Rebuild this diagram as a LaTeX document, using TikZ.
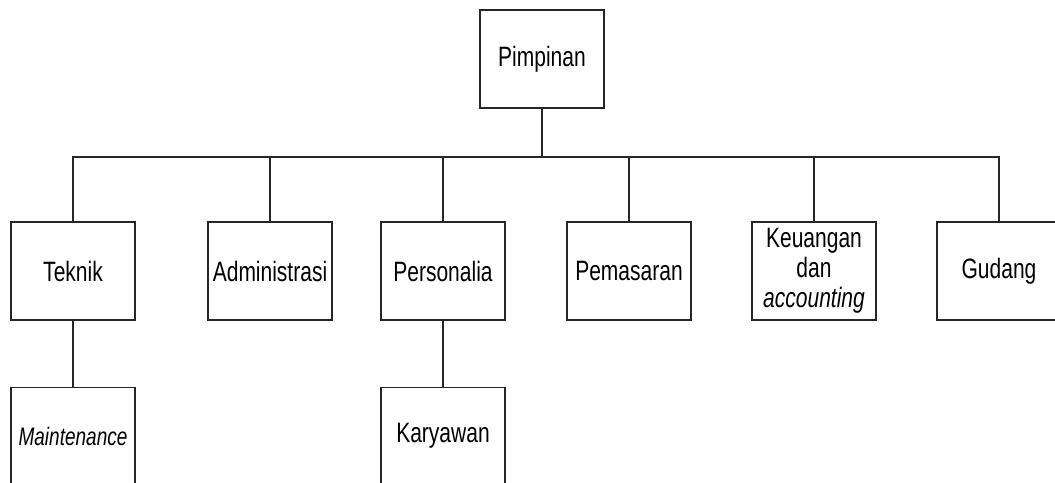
\documentclass[tikz,border=0pt]{standalone}
\usepackage{fontspec}
\setmainfont[FakeStretch=0.75]{Liberation Sans}
\usetikzlibrary{positioning}

\tikzset{
  unit/.style={draw=black!85, line width=0.8pt, minimum width=93pt, minimum height=73.5pt,
    inner sep=0pt, align=center, font=\fontsize{21}{22.5}\selectfont},
  link/.style={draw=black!85, line width=0.8pt}
}

\begin{document}
\begin{tikzpicture}[x=0.75pt, y=-0.75pt, node distance=49.5pt]
  \clip (0,0) rectangle (1055,482);

  \node [unit] (pimpinan) at (542,59) {Pimpinan};

  \node [unit] (teknik) at (73,271) {Teknik};
  \node [unit] (admin) at (270,271) {Administrasi};
  \node [unit] (personalia) at (443,271) {Personalia};
  \node [unit] (pemasaran) at (629,271) {Pemasaran};
  \node [unit] (keuangan) at (814,271) {Keuangan\\dan\\\textit{accounting}};
  \node [unit] (gudang) at (999,271) {Gudang};

  \node [unit, below=of teknik, font=\fontsize{19}{20}\selectfont] (maint) {\textit{Maintenance}};
  \node [unit, below=of personalia] (karyawan) {Karyawan};

  \coordinate (bus) at (542,157);
  \draw [link] (pimpinan) -- (bus);
  \foreach \n in {teknik,admin,personalia,pemasaran,keuangan,gudang}
    \draw [link] (bus) -| (\n.north);

  \draw [link] (teknik) -- (maint);
  \draw [link] (personalia) -- (karyawan);
\end{tikzpicture}
\end{document}
